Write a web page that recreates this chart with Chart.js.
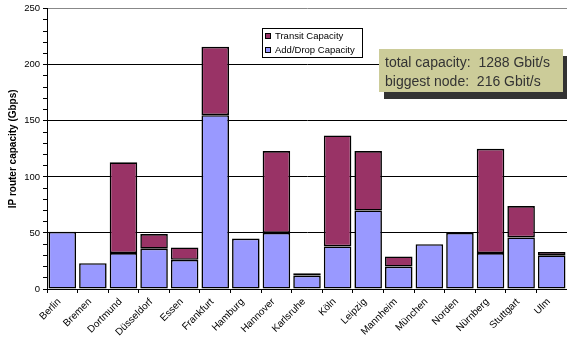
<!DOCTYPE html>
<html>
<head>
<meta charset="utf-8">
<script src="https://cdn.jsdelivr.net/npm/chart.js@4/dist/chart.umd.min.js"></script>
<style>
  html, body { margin: 0; padding: 0; background: #fff; }
  #wrap { width: 567px; height: 339px; position: relative; }
</style>
</head>
<body>
<div id="wrap"><canvas id="capacity"></canvas></div>
<script>
// router nodes and their capacity split (Gbit/s)
const nodes = ['Berlin', 'Bremen', 'Dortmund', 'Düsseldorf', 'Essen', 'Frankfurt', 'Hamburg', 'Hannover',
  'Karlsruhe', 'Köln', 'Leipzig', 'Mannheim', 'München', 'Norden', 'Nürnberg', 'Stuttgart', 'Ulm'];
const addDrop = [51, 23, 32, 36, 26, 155, 45, 50, 12, 38, 70, 20, 40, 50, 32, 46, 30];
const transit = [0, 0, 81, 13, 11, 61, 0, 73, 2, 99, 53, 9, 0, 0, 93, 28, 3];
const yMax = 250;
const infoLines = ['total capacity:  1288 Gbit/s', 'biggest node:  216 Gbit/s'];

const FONT = "'Liberation Sans', Arial, sans-serif";
const BLUE = '#9999ff';
const PLUM = '#993366';

// legend box + info box drawn on top of the plot
const boxes = {
  id: 'boxes',
  afterDraw(chart) {
    const ctx = chart.ctx;
    ctx.save();

    // legend
    const lx = 262, ly = 28;
    ctx.fillStyle = '#fff';
    ctx.fillRect(lx, ly, 101, 30);
    ctx.strokeStyle = '#000';
    ctx.lineWidth = 1;
    ctx.strokeRect(lx + 0.5, ly + 0.5, 100, 29);
    const items = [[PLUM, 'Transit Capacity'], [BLUE, 'Add/Drop Capacity']];
    ctx.font = '9.5px ' + FONT;
    ctx.textBaseline = 'middle';
    items.forEach((it, i) => {
      const y = ly + 8 + i * 14;
      ctx.fillStyle = it[0];
      ctx.fillRect(lx + 3, y - 3, 6, 6);
      ctx.strokeStyle = '#000';
      ctx.strokeRect(lx + 3.5, y - 2.5, 5, 5);
      ctx.fillStyle = '#000';
      ctx.fillText(it[1], lx + 13, y + 0.5);
    });

    // info box with shadow
    const bx = 379, by = 49, bw = 184, bh = 43;
    ctx.fillStyle = '#333';
    ctx.fillRect(bx + 5, by + 7, bw, bh);
    ctx.fillStyle = '#cccc99';
    ctx.fillRect(bx, by, bw, bh);
    ctx.fillStyle = '#333';
    ctx.font = '14px ' + FONT;
    ctx.textBaseline = 'alphabetic';
    infoLines.forEach((t, i) => ctx.fillText(t, bx + 6, by + 18 + i * 19));

    ctx.restore();
  }
};

new Chart(document.getElementById('capacity'), {
  type: 'bar',
  data: {
    labels: nodes,
    datasets: [
      { label: 'Add/Drop Capacity', data: addDrop, backgroundColor: BLUE },
      { label: 'Transit Capacity', data: transit, backgroundColor: PLUM }
    ]
  },
  options: {
    responsive: true,
    maintainAspectRatio: false,
    animation: false,
    datasets: {
      bar: {
        borderColor: '#000',
        borderWidth: c => (c.raw ? 1.6 : 0),
        borderSkipped: false,
        barPercentage: 0.9,
        categoryPercentage: 1
      }
    },
    layout: { padding: { top: 6, right: 0, left: 0, bottom: 0 } },
    plugins: {
      legend: { display: false },
      tooltip: { enabled: false }
    },
    scales: {
      x: {
        stacked: true,
        afterFit(s) { s.height = 50; },
        grid: { drawOnChartArea: false, drawTicks: true, tickLength: 4, tickColor: '#000' },
        border: { color: '#000', width: 1 },
        ticks: {
          color: '#000',
          font: { family: FONT, size: 10 },
          minRotation: 45,
          maxRotation: 45,
          autoSkip: false,
          labelOffset: -3,
          padding: 3
        }
      },
      y: {
        stacked: true,
        min: 0,
        max: yMax,
        afterFit(s) { s.width = 47; },
        border: { color: '#000', width: 1 },
        grid: {
          color: c => (c.tick && c.tick.value % 50 === 0) ? (c.tick.value === yMax ? '#888' : '#000') : 'rgba(0,0,0,0)',
          tickColor: '#000',
          tickLength: 4,
          lineWidth: 1
        },
        ticks: {
          stepSize: 10,
          autoSkip: false,
          color: '#000',
          padding: 3,
          font: { family: FONT, size: 9.5 },
          callback: v => (v % 50 === 0 ? v : '')
        },
        title: {
          display: true,
          text: 'IP router capacity (Gbps)',
          color: '#000',
          font: { family: FONT, size: 10, weight: 'bold' },
          padding: { top: 7, bottom: 0 }
        }
      }
    }
  },
  plugins: [boxes]
});
</script>
</body>
</html>
